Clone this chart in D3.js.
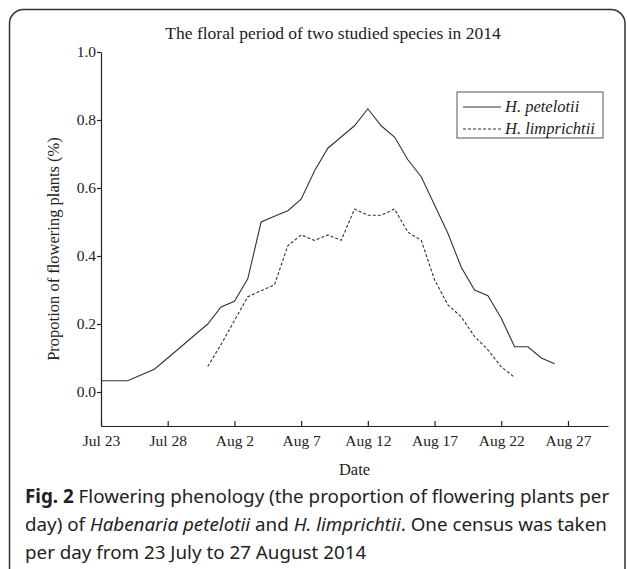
<!DOCTYPE html>
<html>
<head>
<meta charset="utf-8">
<script src="https://cdn.jsdelivr.net/npm/d3@7"></script>
<style>
	body {margin: 0; background: #fff;}
	svg {display: block;}
	.axis text {font-family: "Liberation Serif", "Times New Roman", serif; font-size: 15.5px; fill: #222;}
	.axis path, .axis line {stroke: #222; stroke-width: 1.2;}
</style>
</head>
<body>
<svg id="chart" width="627" height="569"></svg>
<script>
// one census per day, 23 July - 26 August 2014
var dates = [
	'2014-07-23','2014-07-24','2014-07-25','2014-07-26','2014-07-27','2014-07-28','2014-07-29',
	'2014-07-30','2014-07-31','2014-08-01','2014-08-02','2014-08-03','2014-08-04','2014-08-05',
	'2014-08-06','2014-08-07','2014-08-08','2014-08-09','2014-08-10','2014-08-11','2014-08-12',
	'2014-08-13','2014-08-14','2014-08-15','2014-08-16','2014-08-17','2014-08-18','2014-08-19',
	'2014-08-20','2014-08-21','2014-08-22','2014-08-23','2014-08-24','2014-08-25','2014-08-26'
];

var petelotii = [
	0.033, 0.033, 0.033, 0.050, 0.067, 0.100, 0.133,
	0.167, 0.200, 0.250, 0.267, 0.333, 0.500, 0.517,
	0.533, 0.567, 0.650, 0.717, 0.750, 0.783, 0.833,
	0.783, 0.750, 0.683, 0.633, 0.550, 0.467, 0.367,
	0.300, 0.283, 0.217, 0.133, 0.133, 0.100, 0.083
];

// null = no flowering plant recorded yet / any more
var limprichtii = [
	null, null, null, null, null, null, null,
	null, 0.075, 0.140, 0.210, 0.280, 0.298, 0.315,
	0.430, 0.462, 0.446, 0.462, 0.446, 0.538, 0.520,
	0.520, 0.538, 0.470, 0.446, 0.330, 0.256, 0.221,
	0.163, 0.124, 0.074, 0.043, null, null, null
];

var xTicks = ['2014-07-23','2014-07-28','2014-08-02','2014-08-07','2014-08-12','2014-08-17','2014-08-22','2014-08-27'];
var yTicks = [0.0, 0.2, 0.4, 0.6, 0.8, 1.0];
var xDomain = ['2014-07-23', '2014-08-30'];
var yDomain = [-0.1, 1.0];

var series = [
	{name: 'H. petelotii', values: petelotii, dash: null},
	{name: 'H. limprichtii', values: limprichtii, dash: '3,2'}
];

var parse = d3.timeParse('%Y-%m-%d');
var svg = d3.select('#chart');

var plot = {left: 101, right: 608, top: 52, bottom: 426}; // in pixels
var serif = '"Liberation Serif", "Times New Roman", serif';

var x = d3.scaleTime()
	.domain(xDomain.map(parse))
	.range([plot.left, plot.right]);

var y = d3.scaleLinear()
	.domain(yDomain)
	.range([plot.bottom, plot.top]);

// frame round the figure, open at the bottom
svg.append('rect')
	.attr('x', 9.5).attr('y', 9.5)
	.attr('width', 615.5).attr('height', 600)
	.attr('rx', 14)
	.style('fill', 'none')
	.style('stroke', '#333')
	.style('stroke-width', 1.5);

svg.append('text')
	.attr('x', 333).attr('y', 39)
	.attr('text-anchor', 'middle')
	.style('font-family', serif)
	.style('font-size', '17.5px')
	.style('fill', '#222')
	.text('The floral period of two studied species in 2014');

svg.append('g')
	.attr('class', 'axis')
	.attr('transform', 'translate(' + plot.left + ',0)')
	.call(d3.axisLeft(y)
		.tickValues(yTicks)
		.tickFormat(d3.format('.1f'))
		.tickSize(4)
		.tickSizeOuter(0)
		.tickPadding(1));

svg.append('g')
	.attr('class', 'axis')
	.attr('transform', 'translate(0,' + plot.bottom + ')')
	.call(d3.axisBottom(x)
		.tickValues(xTicks.map(parse))
		.tickFormat(d3.timeFormat('%b %-d'))
		.tickSizeInner(-5)
		.tickSizeOuter(0)
		.tickPadding(9));

svg.append('text')
	.attr('x', (plot.left + plot.right) / 2).attr('y', 475)
	.attr('text-anchor', 'middle')
	.style('font-family', serif)
	.style('font-size', '16.5px')
	.style('fill', '#222')
	.text('Date');

svg.append('text')
	.attr('transform', 'translate(59,249) rotate(-90)')
	.attr('text-anchor', 'middle')
	.style('font-family', serif)
	.style('font-size', '16.5px')
	.style('fill', '#222')
	.text('Propotion of flowering plants (%)');

var line = d3.line()
	.defined(function(d) {return d.v !== null})
	.x(function(d) {return x(d.date)})
	.y(function(d) {return y(d.v)});

series.forEach(function(s) {
	var points = dates.map(function(d, i) {return {date: parse(d), v: s.values[i]}});
	svg.append('path')
		.datum(points)
		.attr('d', line)
		.style('fill', 'none')
		.style('stroke', '#333')
		.style('stroke-width', 1.1)
		.style('stroke-dasharray', s.dash);
});

// legend
var legend = svg.append('g').attr('transform', 'translate(457,92)');
legend.append('rect')
	.attr('width', 146).attr('height', 46)
	.style('fill', '#fff')
	.style('stroke', '#555')
	.style('stroke-width', 1);
series.forEach(function(s, i) {
	var ly = 15 + i * 22;
	legend.append('line')
		.attr('x1', 6).attr('x2', 44)
		.attr('y1', ly).attr('y2', ly)
		.style('stroke', '#333')
		.style('stroke-width', 1.1)
		.style('stroke-dasharray', s.dash);
	legend.append('text')
		.attr('x', 48).attr('y', ly + 5)
		.style('font-family', serif)
		.style('font-style', 'italic')
		.style('font-size', '16.5px')
		.style('fill', '#222')
		.text(s.name);
});

// caption
var caption = svg.append('text')
	.style('font-family', '"Noto Sans", "Open Sans", sans-serif')
	.style('font-size', '18.8px')
	.style('fill', '#222');
var lines = [
	[['Fig. 2', 'bold'], [' Flowering phenology (the proportion of flowering plants per', null]],
	[['day) of ', null], ['Habenaria petelotii', 'italic'], [' and ', null], ['H. limprichtii', 'italic'], ['. One census was taken', null]],
	[['per day from 23 July to 27 August 2014', null]]
];
lines.forEach(function(parts, i) {
	parts.forEach(function(p, j) {
		var t = caption.append('tspan').text(p[0]);
		if (j === 0) {t.attr('x', 25).attr('y', 503 + i * 28)}
		if (p[1] === 'bold') {t.style('font-weight', 'bold')}
		if (p[1] === 'italic') {t.style('font-style', 'italic')}
	});
});
</script>
</body>
</html>
